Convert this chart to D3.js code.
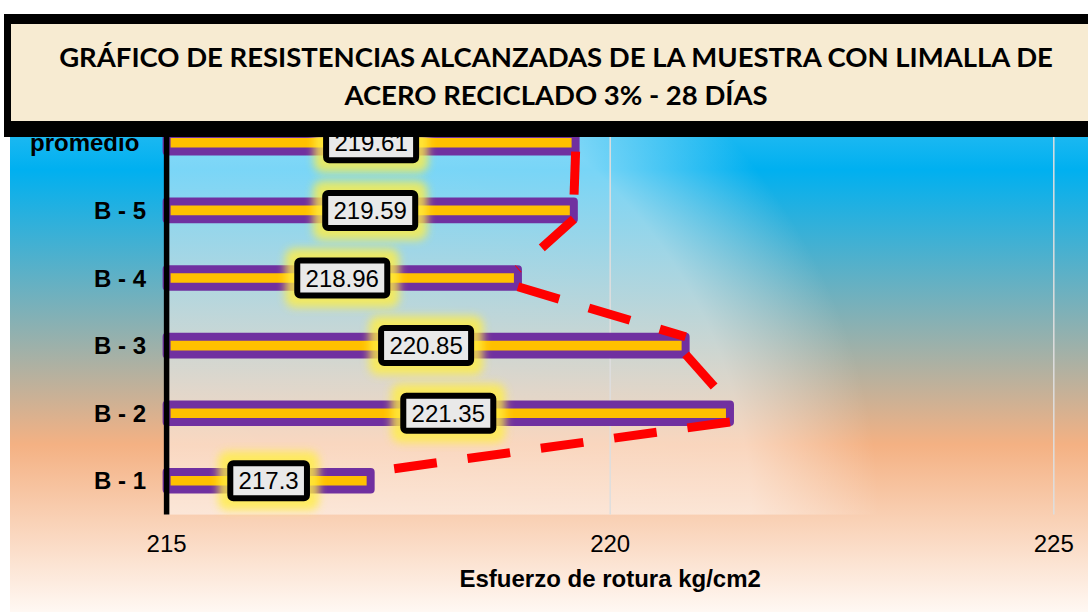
<!DOCTYPE html>
<html><head><meta charset="utf-8">
<script src="https://cdn.jsdelivr.net/npm/d3@7"></script>
<style>html,body{margin:0;padding:0;background:#fff;overflow:hidden}</style>
</head><body><svg id="c" width="1088" height="613"></svg>
<script>
// ---- data ----
const categories = ["promedio ", "B - 5", "B - 4", "B - 3", "B - 2", "B - 1"];
const values = [219.61, 219.59, 218.96, 220.85, 221.35, 217.3];
const valueLabels = ["219.61", "219.59", "218.96", "220.85", "221.35", "217.3"];
const xTicks = [215, 220, 225];
const xDomain = [215, 225];
const titleLines = ["GRÁFICO DE RESISTENCIAS ALCANZADAS DE LA MUESTRA CON LIMALLA DE", "ACERO RECICLADO 3% - 28 DÍAS"];
const xTitle = "Esfuerzo de rotura kg/cm2";

// ---- layout ----
const svg = d3.select("#c");
const plot = {left: 166.6, right: 1053.8, top: 109, bottom: 514.6};
const x = d3.scaleLinear().domain(xDomain).range([plot.left, plot.right]);
const y = d3.scaleBand().domain(categories).range([plot.top, plot.bottom]).paddingInner(0.74).paddingOuter(0.37);
const bw = y.bandwidth();
const FONT = "'Liberation Sans', Arial, sans-serif";

const defs = svg.append("defs");
const bg = defs.append("linearGradient").attr("id", "bg").attr("x1", 0).attr("y1", 0).attr("x2", 0).attr("y2", 1);
[[0, "#7fd5f5"], [0.26, "#00b0f0"], [0.72, "#f4b183"], [1, "#fff8f3"]].forEach(s =>
  bg.append("stop").attr("offset", s[0]).attr("stop-color", s[1]));
const rg = defs.append("radialGradient").attr("id", "pg").attr("gradientUnits", "userSpaceOnUse")
  .attr("cx", plot.left).attr("cy", plot.bottom).attr("r", 712)
  .attr("gradientTransform", `translate(${plot.left},${plot.bottom}) scale(1,0.867) translate(${-plot.left},${-plot.bottom})`);
[[0, 0.5], [0.82, 0.47], [1, 0]].forEach(s =>
  rg.append("stop").attr("offset", s[0]).attr("stop-color", "#fff").attr("stop-opacity", s[1]));
const glow = defs.append("filter").attr("id", "glow").attr("x", "-50%").attr("y", "-50%").attr("width", "200%").attr("height", "200%");
glow.append("feGaussianBlur").attr("stdDeviation", 4.5);

// chart background
svg.append("rect").attr("x", 10).attr("y", 14).attr("width", 1078).attr("height", 598).attr("fill", "url(#bg)");
// plot area overlay
svg.append("rect").attr("x", plot.left).attr("y", plot.top).attr("width", plot.right - plot.left)
  .attr("height", plot.bottom - plot.top).attr("fill", "url(#pg)");

// gridlines
svg.append("g").selectAll("line").data(xTicks.filter(t => t !== xDomain[0])).join("line")
  .attr("x1", d => x(d)).attr("x2", d => x(d)).attr("y1", plot.top).attr("y2", plot.bottom)
  .attr("stroke", "#dedede").attr("stroke-width", 1.5);

// bars
svg.append("g").selectAll("rect").data(categories).join("rect")
  .attr("x", x(xDomain[0])).attr("y", d => y(d))
  .attr("width", (d, i) => x(values[i]) - x(xDomain[0])).attr("height", bw)
  .attr("fill", "#ffc000").attr("stroke", "#7030a0").attr("stroke-width", 8).attr("stroke-linejoin", "round");

// series lines (connect bar ends)
const pairs = d3.range(categories.length - 1);
svg.append("g").selectAll("line").data(pairs).join("line")
  .attr("x1", i => x(values[i])).attr("y1", i => y(categories[i]) + bw)
  .attr("x2", i => x(values[i + 1])).attr("y2", i => y(categories[i + 1]))
  .attr("stroke", "#ff0000").attr("stroke-width", 9).attr("stroke-dasharray", "43 31");

// vertical axis line
svg.append("line").attr("x1", x(xDomain[0])).attr("x2", x(xDomain[0]))
  .attr("y1", plot.top).attr("y2", plot.bottom).attr("stroke", "#000").attr("stroke-width", 5.5);

// category labels
svg.append("g").selectAll("text").data(categories).join("text")
  .attr("x", 146).attr("y", d => y(d) + bw / 2).attr("dy", "0.36em")
  .attr("text-anchor", "end").attr("font-family", FONT).attr("font-weight", "bold").attr("font-size", 24)
  .style("white-space", "pre").attr("fill", "#000").text(d => d);

// x tick labels
svg.append("g").selectAll("text").data(xTicks).join("text")
  .attr("x", d => x(d)).attr("y", 552).attr("text-anchor", "middle")
  .attr("font-family", FONT).attr("font-size", 24).attr("fill", "#000").text(d => d);

// x axis title
svg.append("text").attr("x", (plot.left + plot.right) / 2).attr("y", 587).attr("text-anchor", "middle")
  .attr("font-family", FONT).attr("font-weight", "bold").attr("font-size", 24).attr("fill", "#000").text(xTitle);

// data labels
const lg = svg.append("g");
categories.forEach((c, i) => {
  const cx = (x(xDomain[0]) + x(values[i])) / 2, cy = y(c) + bw / 2;
  const g = lg.append("g");
  const glowR = g.append("rect");
  const box = g.append("rect");
  const t = g.append("text").attr("x", cx).attr("y", cy).attr("dy", "0.36em").attr("text-anchor", "middle")
    .attr("font-family", FONT).attr("font-size", 24).attr("fill", "#000").text(valueLabels[i]);
  const tw = t.node().getComputedTextLength();
  const w = tw + 16.6, h = 35;
  box.attr("x", cx - w / 2).attr("y", cy - h / 2).attr("width", w).attr("height", h).attr("rx", 3)
    .attr("fill", "#e9e9e9").attr("stroke", "#000").attr("stroke-width", 6);
  glowR.attr("x", cx - w / 2 - 12).attr("y", cy - h / 2 - 12).attr("width", w + 24).attr("height", h + 24).attr("rx", 9)
    .attr("fill", "#ffee44").attr("opacity", 0.8).attr("filter", "url(#glow)");
});

// title box
const tg = svg.append("g");
tg.append("rect").attr("x", 4).attr("y", 14).attr("width", 1100).attr("height", 123).attr("fill", "#000");
tg.append("rect").attr("x", 11).attr("y", 24).attr("width", 1100).attr("height", 97).attr("fill", "#f7ebd2");
const tl = tg.selectAll("text.t").data(titleLines).join("text").attr("class", "t")
  .attr("text-anchor", "middle").attr("font-family", "Lato, 'Open Sans', sans-serif").attr("font-weight", "bold")
  .attr("font-size", 27).attr("fill", "#000").text(d => d);
const w1 = tl.nodes()[0].getComputedTextLength();
const k = 994 / w1;
tl.attr("transform", (d, i) => `translate(556,${i === 0 ? 66.5 : 105}) scale(${k},1)`);
</script></body></html>
